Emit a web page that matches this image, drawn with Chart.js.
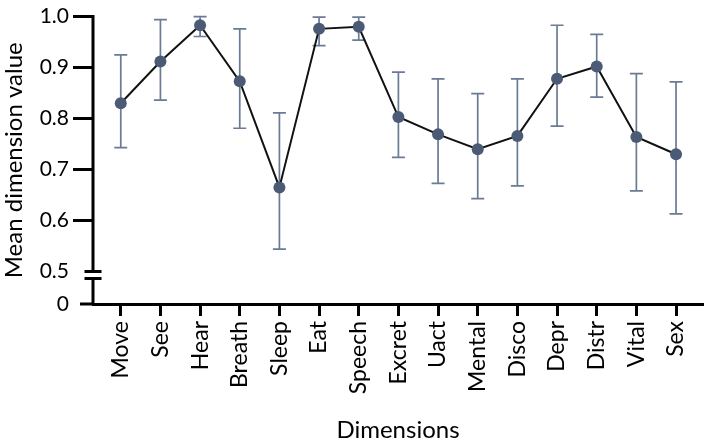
<!DOCTYPE html>
<html>
<head>
<meta charset="utf-8">
<script src="https://cdn.jsdelivr.net/npm/chart.js@4"></script>
<style>
  html, body { margin: 0; padding: 0; background: #fff; }
  #wrap { width: 709px; height: 440px; }
</style>
</head>
<body>
<div id="wrap"><canvas id="chart"></canvas></div>
<script>
const dimensions = ["Move", "See", "Hear", "Breath", "Sleep", "Eat", "Speech", "Excret",
                    "Uact", "Mental", "Disco", "Depr", "Distr", "Vital", "Sex"];
const meanValues  = [0.830, 0.912, 0.983, 0.873, 0.665, 0.976, 0.980, 0.803, 0.769, 0.740, 0.766, 0.878, 0.902, 0.764, 0.730];
const lowerValues = [0.743, 0.836, 0.961, 0.781, 0.544, 0.943, 0.954, 0.724, 0.673, 0.643, 0.668, 0.785, 0.842, 0.658, 0.613];
const upperValues = [0.925, 0.994, 1.000, 0.976, 0.811, 0.999, 0.999, 0.891, 0.878, 0.849, 0.878, 0.983, 0.965, 0.888, 0.872];

// y axis is broken: everything below 0.5 is squeezed, bottom value is labelled "0"
const yTickValues = [0.5, 0.6, 0.7, 0.8, 0.9, 1.0];
const yAxisFloor = 0.4363;
const yBreakLow = 0.4865;

const fontFamily = "Lato, 'Noto Sans', sans-serif";

const errorBarsAndBreak = {
    id: "errorBarsAndBreak",
    beforeDatasetsDraw(chart) {
        const { ctx, scales: { x, y } } = chart;
        ctx.save();
        ctx.strokeStyle = "#6a7b95";
        ctx.lineWidth = 1.7;
        dimensions.forEach((_, i) => {
            const px = x.getPixelForValue(i);
            const top = y.getPixelForValue(upperValues[i]);
            const bottom = y.getPixelForValue(lowerValues[i]);
            ctx.beginPath();
            ctx.moveTo(px, top);
            ctx.lineTo(px, bottom);
            ctx.moveTo(px - 6.5, top);
            ctx.lineTo(px + 6.5, top);
            ctx.moveTo(px - 6.5, bottom);
            ctx.lineTo(px + 6.5, bottom);
            ctx.stroke();
        });
        ctx.restore();
    },
    afterDraw(chart) {
        const { ctx, scales: { y } } = chart;
        const ax = y.right;
        const yTop = y.getPixelForValue(1.0);
        const yHalf = y.getPixelForValue(0.5);
        const yLow = y.getPixelForValue(yBreakLow);
        const yZero = y.getPixelForValue(yAxisFloor);
        ctx.save();
        ctx.strokeStyle = "#000";
        ctx.lineWidth = 3;
        ctx.beginPath();
        // axis line, interrupted at the break
        ctx.moveTo(ax, yTop - 1.5);
        ctx.lineTo(ax, yHalf);
        ctx.moveTo(ax, yLow);
        ctx.lineTo(ax, yZero);
        // break marks
        ctx.moveTo(ax - 8.5, yHalf);
        ctx.lineTo(ax + 8.5, yHalf);
        ctx.moveTo(ax - 8.5, yLow);
        ctx.lineTo(ax + 8.5, yLow);
        // short tick at 0
        ctx.moveTo(ax - 13, yZero);
        ctx.lineTo(ax, yZero);
        ctx.stroke();
        ctx.restore();
    }
};

new Chart(document.getElementById("chart"), {
    type: "line",
    data: {
        datasets: [{
            data: meanValues.map((v, i) => ({ x: i, y: v })),
            borderColor: "#111",
            borderWidth: 2,
            pointRadius: 6,
            pointHoverRadius: 6,
            pointBackgroundColor: "#4b5b76",
            pointBorderWidth: 0,
            tension: 0,
            clip: false
        }]
    },
    options: {
        responsive: true,
        maintainAspectRatio: false,
        animation: false,
        layout: { padding: { top: 12, right: 4, left: 0, bottom: 0 } },
        plugins: {
            legend: { display: false },
            tooltip: { enabled: false }
        },
        scales: {
            x: {
                type: "linear",
                min: -0.7,
                max: 14.68,
                afterBuildTicks: scale => {
                    scale.ticks = dimensions.map((_, i) => ({ value: i }));
                },
                afterFit: scale => { scale.height = 136; },
                ticks: {
                    autoSkip: false,
                    minRotation: 90,
                    maxRotation: 90,
                    padding: 5,
                    color: "#000",
                    font: { family: fontFamily, size: 23 },
                    callback: v => dimensions[v]
                },
                grid: {
                    drawOnChartArea: false,
                    tickLength: 12,
                    tickWidth: 3,
                    tickColor: "#000"
                },
                border: { color: "#000", width: 3 },
                title: {
                    display: true,
                    text: "Dimensions",
                    color: "#000",
                    font: { family: fontFamily, size: 24, lineHeight: 0.85 },
                    padding: { top: 0, bottom: 0 }
                }
            },
            y: {
                min: yAxisFloor,
                max: 1.0,
                afterBuildTicks: scale => {
                    scale.ticks = [yAxisFloor, ...yTickValues].map(v => ({ value: v }));
                },
                afterFit: scale => { scale.width = 93; },
                ticks: {
                    padding: 4,
                    color: "#000",
                    font: { family: fontFamily, size: 21 },
                    callback: v => (v < 0.45 ? "0" : v.toFixed(1))
                },
                grid: {
                    drawOnChartArea: false,
                    tickLength: 20,
                    tickWidth: 3,
                    tickColor: c => (c.tick && c.tick.value > 0.55 ? "#000" : "rgba(0,0,0,0)")
                },
                border: { display: false },
                title: {
                    display: true,
                    text: "Mean dimension value",
                    color: "#000",
                    font: { family: fontFamily, size: 24 },
                    padding: { top: 0, bottom: 0 }
                }
            }
        }
    },
    plugins: [errorBarsAndBreak]
});
</script>
</body>
</html>
